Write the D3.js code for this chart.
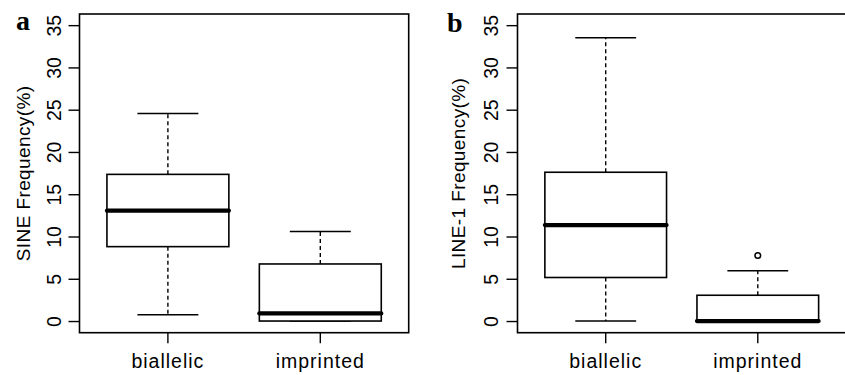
<!DOCTYPE html>
<meta charset="utf-8">
<head>
    <title>SINE / LINE-1 boxplots</title>
    <style>
        body { margin: 0; background: #fff; }
        text { font-family: "Liberation Sans", Arial, sans-serif; fill: #000; }
        .panel-tag { font-family: "Liberation Serif", "Times New Roman", serif; font-weight: bold; font-size: 28px; }
    </style>
</head>
<script src="https://d3js.org/d3.v7.min.js"></script>
<svg id="chart" width="845" height="375"></svg>

<script>
    // categories and y ticks
    const groups = ["biallelic", "imprinted"]
    const yTicks = [0, 5, 10, 15, 20, 25, 30, 35]

    // panel a: SINE frequency (lower whisker, Q1, median, Q3, upper whisker)
    const sineLow = [0.75, 0]
    const sineQ1 = [8.8, 0]
    const sineMedian = [13.05, 0.9]
    const sineQ3 = [17.35, 6.75]
    const sineHigh = [24.55, 10.6]
    const sineOutliers = [[], []]

    // panel b: LINE-1 frequency
    const lineLow = [0, 0]
    const lineQ1 = [5.15, 0]
    const lineMedian = [11.35, 0]
    const lineQ3 = [17.6, 3.05]
    const lineHigh = [33.5, 5.95]
    const lineOutliers = [[], [7.75]]

    const svg = d3.select("#chart")

    // shared y scale (R style ylim padding)
    const y = d3.scaleLinear().domain([-1.38, 36.32]).range([332.7, 14])

    function drawPanel(opt) {
        const x = d3.scaleLinear().domain([0.42, 2.58]).range([opt.left, opt.right])
        const bw = (x(1.4) - x(1)) // half box width
        const g = svg.append("g")

        // frame
        g.append("rect")
            .attr("x", opt.left).attr("y", y.range()[1])
            .attr("width", opt.right - opt.left)
            .attr("height", y.range()[0] - y.range()[1])
            .attr("fill", "none").attr("stroke", "#000").attr("stroke-width", 1.6)

        // y axis
        const ya = g.append("g")
            .attr("transform", "translate(" + opt.left + ",0)")
            .call(d3.axisLeft(y).tickValues(yTicks).tickSize(11).tickSizeOuter(0))
        ya.select(".domain").remove()
        ya.selectAll("line").attr("stroke", "#000").attr("stroke-width", 1.4)
        ya.selectAll("text")
            .attr("x", null).attr("dy", null)
            .attr("transform", "translate(" + opt.tickOffset + ",0) rotate(-90)")
            .attr("text-anchor", "middle")
            .style("font-size", "19.5px")
            .style("font-family", "'Liberation Sans', Arial, sans-serif")

        // y title
        g.append("text")
            .attr("transform", "translate(" + opt.titleX + "," + ((y.range()[0] + y.range()[1]) / 2) + ") rotate(-90)")
            .attr("text-anchor", "middle")
            .style("font-size", "19px")
            .style("letter-spacing", "0.4px")
            .text(opt.title)

        // x ticks + labels
        groups.forEach(function(name, i) {
            const cx = x(i + 1)
            g.append("line")
                .attr("x1", cx).attr("x2", cx)
                .attr("y1", y.range()[0]).attr("y2", y.range()[0] + 10.5)
                .attr("stroke", "#000").attr("stroke-width", 1.4)
            g.append("text")
                .attr("x", cx).attr("y", 368)
                .attr("text-anchor", "middle")
                .style("font-size", "19.5px")
                .style("letter-spacing", "1px")
                .text(name)
        })

        // boxes
        groups.forEach(function(name, i) {
            const cx = x(i + 1)
            const lo = opt.low[i], q1 = opt.q1[i], med = opt.median[i], q3 = opt.q3[i], hi = opt.high[i]

            // whiskers (dashed)
            g.append("line")
                .attr("x1", cx).attr("x2", cx).attr("y1", y(q3)).attr("y2", y(hi))
                .attr("stroke", "#000").attr("stroke-width", 1.4).attr("stroke-dasharray", "4,3")
            g.append("line")
                .attr("x1", cx).attr("x2", cx).attr("y1", y(q1)).attr("y2", y(lo))
                .attr("stroke", "#000").attr("stroke-width", 1.4).attr("stroke-dasharray", "4,3")

            // whisker caps
            ;[lo, hi].forEach(function(v) {
                g.append("line")
                    .attr("x1", cx - bw / 2).attr("x2", cx + bw / 2)
                    .attr("y1", y(v)).attr("y2", y(v))
                    .attr("stroke", "#000").attr("stroke-width", 1.5)
            })

            // box
            g.append("rect")
                .attr("x", cx - bw).attr("y", y(q3))
                .attr("width", 2 * bw).attr("height", y(q1) - y(q3))
                .attr("fill", "#fff").attr("stroke", "#000").attr("stroke-width", 1.6)

            // median
            g.append("line")
                .attr("x1", cx - bw).attr("x2", cx + bw)
                .attr("y1", y(med)).attr("y2", y(med))
                .attr("stroke", "#000").attr("stroke-width", 4.2).attr("stroke-linecap", "round")

            // outliers
            opt.outliers[i].forEach(function(v) {
                g.append("circle")
                    .attr("cx", cx).attr("cy", y(v)).attr("r", 2.8)
                    .attr("fill", "none").attr("stroke", "#000").attr("stroke-width", 1.5)
            })
        })

        // panel tag
        g.append("text")
            .attr("class", "panel-tag")
            .attr("x", opt.tagX).attr("y", opt.tagY)
            .text(opt.tag)
    }

    drawPanel({
        left: 79.5, right: 408.7, tickOffset: -18.5, titleX: 30,
        title: "SINE Frequency(%)", tag: "a", tagX: 16, tagY: 30,
        low: sineLow, q1: sineQ1, median: sineMedian, q3: sineQ3, high: sineHigh, outliers: sineOutliers
    })

    drawPanel({
        left: 517.5, right: 846, tickOffset: -20, titleX: 465,
        title: "LINE-1 Frequency(%)", tag: "b", tagX: 447, tagY: 32,
        low: lineLow, q1: lineQ1, median: lineMedian, q3: lineQ3, high: lineHigh, outliers: lineOutliers
    })
</script>
